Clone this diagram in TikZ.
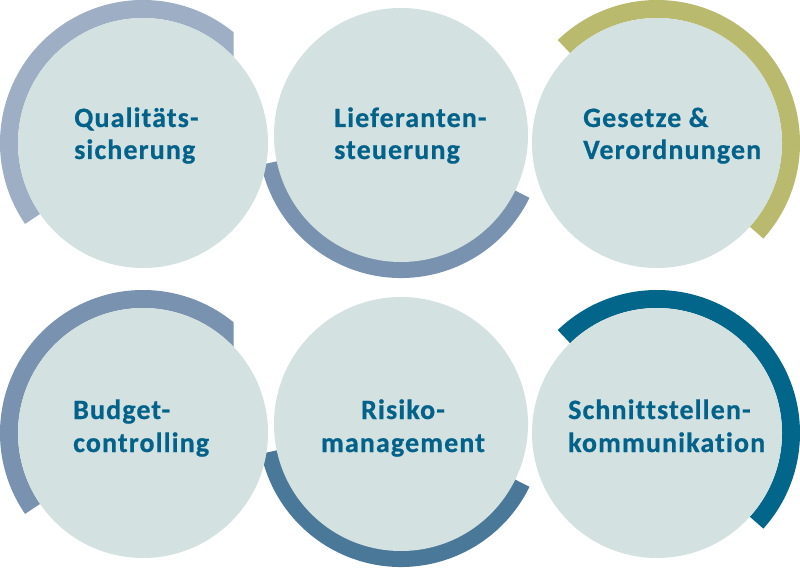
\documentclass[tikz,border=0pt]{standalone}
\usepackage{fontspec}
\setmainfont{Carlito}
\newfontfamily\labfont{Carlito}[LetterSpace=4, Ligatures=NoCommon, BoldFeatures={FakeBold=0.6}]
\usetikzlibrary{calc}
\definecolor{fillc}{HTML}{D3E1E0}
\definecolor{txtc}{HTML}{03628A}
\definecolor{arcA}{HTML}{9DAEC5}
\definecolor{arcB}{HTML}{7892AF}
\definecolor{arcC}{HTML}{BABA6E}
\definecolor{arcD}{HTML}{4A7899}
\definecolor{arcE}{HTML}{02658A}
\begin{document}
\begin{tikzpicture}[x=1pt,y=1pt,
  disc/.style={circle, fill=fillc, draw=none, inner sep=0pt, minimum size=#1},
  ring/.style={line width=18pt, line cap=butt},
  lab/.style={inner sep=0pt, text=txtc, font=\labfont\bfseries\fontsize{28}{32}\selectfont}]
\useasboundingbox (0,0) rectangle (800,568);
\coordinate (p1) at (143,425);
\coordinate (p2) at (401,433);
\coordinate (p3) at (657,425);
\coordinate (p4) at (143,135);
\coordinate (p5) at (401,144);
\coordinate (p6) at (657,135);
% rings
\begin{scope}
  \clip (0,0) rectangle (233.5,568);
  \draw[ring, arcA] ($(p1)+(214.5:134)$) arc[start angle=214.5, end angle=38, radius=134];
  \draw[ring, arcB] ($(p4)+(214.5:134)$) arc[start angle=214.5, end angle=38, radius=134];
\end{scope}
\draw[ring, arcB] ($(p2)+(192:134)$) arc[start angle=192, end angle=334, radius=134];
\draw[ring, arcD] ($(p5)+(192:134)$) arc[start angle=192, end angle=334, radius=134];
\draw[ring, arcC] ($(p3)+(-42:134)$) arc[start angle=-42, end angle=134, radius=134];
\draw[ring, arcE] ($(p6)+(-42:134)$) arc[start angle=-42, end angle=134, radius=134];
% discs
\node[disc=250pt] (q1) at (p1) {};
\node[disc=254pt] (q2) at (p2) {};
\node[disc=250pt] (q3) at (p3) {};
\node[disc=250pt] (q4) at (p4) {};
\node[disc=254pt] (q5) at (p5) {};
\node[disc=250pt] (q6) at (p6) {};
% labels
\node[lab, anchor=base west] (t1a) at (74,441) {Qualitäts-};
\node[lab, anchor=base west] (t1b) at (74,409) {sicherung};
\node[lab, anchor=base west] (t2a) at (334,441) {Lieferanten-};
\node[lab, anchor=base west] (t2b) at (334,409) {steuerung};
\node[lab, anchor=base west] (t3a) at (583,441) {Gesetze \&};
\node[lab, anchor=base west] (t3b) at (583,409) {Verordnungen};
\node[lab, anchor=base west] (t4a) at (73,149) {Budget-};
\node[lab, anchor=base west] (t4b) at (73,116) {controlling};
\node[lab, anchor=base] (t5a) at (403,149) {Risiko-};
\node[lab, anchor=base] (t5b) at (403,116) {management};
\node[lab, anchor=base west] (t6a) at (568,149) {Schnittstellen-};
\node[lab, anchor=base west] (t6b) at (568,116) {kommunikation};
\end{tikzpicture}
\end{document}
